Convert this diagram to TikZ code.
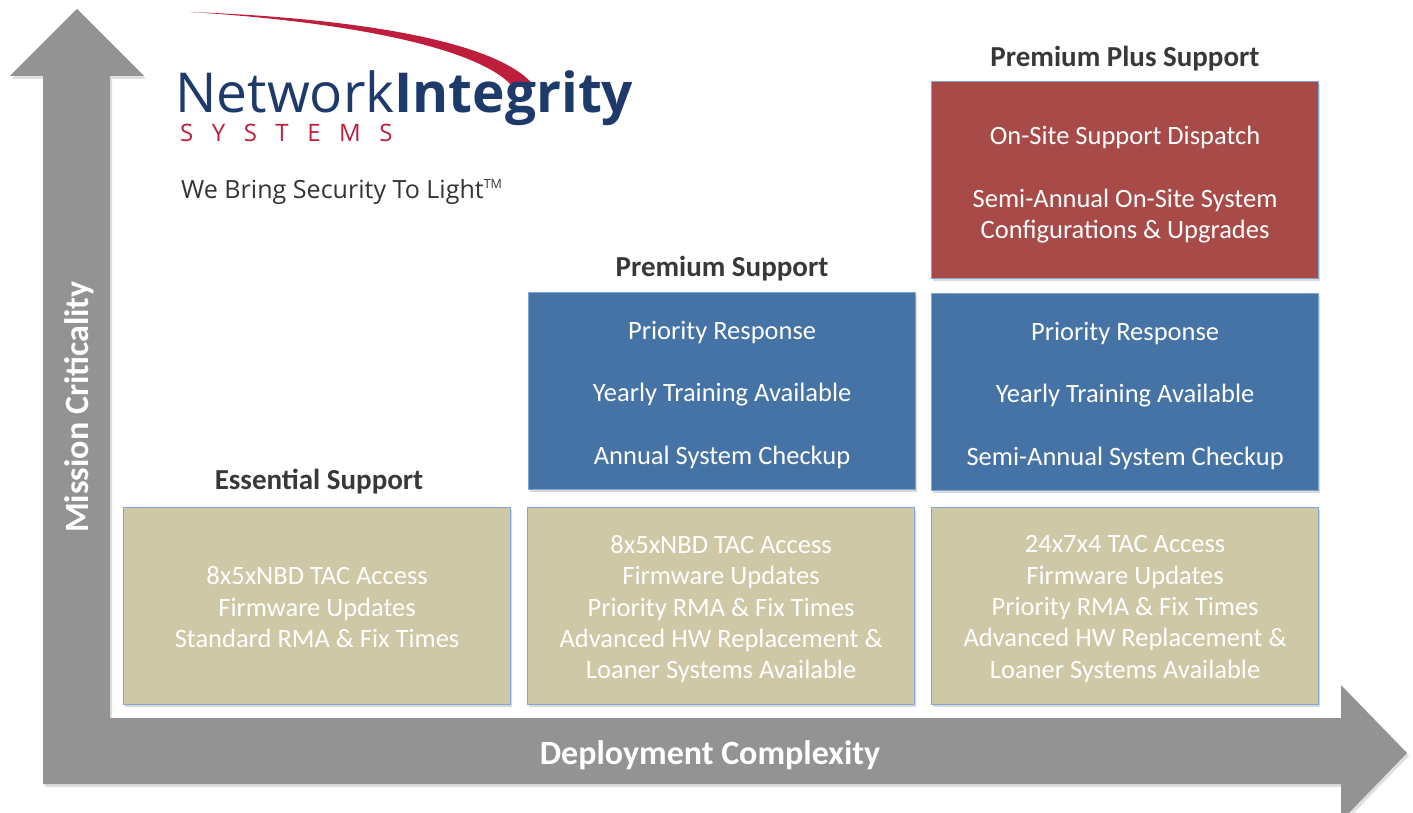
\documentclass[tikz,border=0pt]{standalone}
\usepackage{fontspec}
\setmainfont{Carlito}
\newfontfamily\logofont{Open Sans}
\usetikzlibrary{shadows}
\definecolor{axisgray}{HTML}{939393}
\definecolor{tanfill}{HTML}{CEC8A7}
\definecolor{bluefill}{HTML}{4573A5}
\definecolor{redfill}{HTML}{A84A47}
\definecolor{boxedge}{HTML}{80A6D4}
\definecolor{titlegray}{HTML}{383838}
\definecolor{navy}{HTML}{1D3A6B}
\definecolor{logored}{HTML}{BE1E3C}
\definecolor{taggray}{HTML}{333333}
\tikzset{
  tierbox/.style={draw=boxedge, line width=1.2pt, inner sep=0pt, anchor=north west,
    minimum width=387pt, minimum height=197pt,
    drop shadow={opacity=0.3, shadow xshift=1.5pt, shadow yshift=-2.5pt}},
  tanbox/.style={tierbox, fill=tanfill},
  bluebox/.style={tierbox, fill=bluefill},
  redbox/.style={tierbox, fill=redfill},
  boxtext/.style={text=white, align=center, inner sep=0pt},
  tantext/.style={boxtext, font=\fontsize{26.5}{31.3}\selectfont},
  bluetext/.style={boxtext, font=\fontsize{26.5}{62.5}\selectfont},
  redtext/.style={boxtext, font=\fontsize{26.5}{31.3}\selectfont},
  tiertitle/.style={text=titlegray, font=\fontsize{29}{33}\selectfont\bfseries},
  axislabel/.style={text=white, font=\fontsize{34}{38}\selectfont\bfseries},
}
\begin{document}
\begin{tikzpicture}[x=1pt,y=-1pt]
\useasboundingbox (0,0) rectangle (1413,813);
\clip (0,0) rectangle (1413,813);
% axes (one L-shaped double arrow)
\fill[axisgray, drop shadow={opacity=0.25, shadow xshift=2pt, shadow yshift=-3pt}]
  (77,9) -- (144,76) -- (110,76) -- (110,718) -- (1341,718) -- (1341,685)
  -- (1407,753) -- (1341,821) -- (1341,784) -- (43,784) -- (43,76) -- (10,76) -- cycle;
\node[axislabel, rotate=90] (ylab) at (79,407) {Mission Criticality};
\node[axislabel] (xlab) at (710,755) {Deployment Complexity};

% logo
\fill[logored] (190,12) .. controls (350,18) and (500,40) .. (535,87)
  -- (513,87) .. controls (480,48) and (350,22) .. (190,12) -- cycle;
\node[anchor=base west, inner sep=0pt, text=navy] (logo) at (175,113)
  {\resizebox{458pt}{!}{\logofont Network\textbf{Integrity}}};
\node[anchor=base west, inner sep=0pt, text=logored, font=\logofont\fontsize{24}{28}\selectfont] (systems) at (180,142)
  {S\hspace{18.5pt}Y\hspace{18.5pt}S\hspace{18.5pt}T\hspace{18.5pt}E\hspace{18.5pt}M\hspace{18.5pt}S};
\node[anchor=base west, inner sep=0pt, text=taggray] (tag) at (181,198)
  {\resizebox{322pt}{!}{\logofont We Bring Security To Light\textsuperscript{\tiny TM}}};

% tier titles
\node[tiertitle] (t1) at (319,482) {Essential Support};
\node[tiertitle] (t2) at (722,269) {Premium Support};
\node[tiertitle] (t3) at (1125,59) {Premium Plus Support};

% boxes
\node[tanbox] (e1) at (123,507) {};
\node[tanbox] (p1) at (527,507) {};
\node[tanbox] (pp1) at (931,507) {};
\node[bluebox] (p2) at (528,292) {};
\node[bluebox] (pp2) at (931,293) {};
\node[redbox] (pp3) at (931,81) {};

% box texts
\node[tantext] (e1t) at ([yshift=-1pt]e1.center) {8x5xNBD TAC Access\\Firmware Updates\\Standard RMA \& Fix Times};
\node[tantext] (p1t) at ([yshift=-3pt]p1.center) {8x5xNBD TAC Access\\Firmware Updates\\Priority RMA \& Fix Times\\Advanced HW Replacement \&\\Loaner Systems Available};
\node[tantext] (pp1t) at ([yshift=-3pt]pp1.center) {24x7x4 TAC Access\\Firmware Updates\\Priority RMA \& Fix Times\\Advanced HW Replacement \&\\Loaner Systems Available};
\node[bluetext] (p2t) at ([yshift=-3.5pt]p2.center) {Priority Response\\Yearly Training Available\\Annual System Checkup};
\node[bluetext] (pp2t) at ([yshift=-3.5pt]pp2.center) {Priority Response\\Yearly Training Available\\Semi-Annual System Checkup};
\node[redtext] (pp3t) at ([yshift=-4.5pt]pp3.center) {On-Site Support Dispatch\\[31.5pt]Semi-Annual On-Site System\\Configurations \& Upgrades};
\end{tikzpicture}
\end{document}
